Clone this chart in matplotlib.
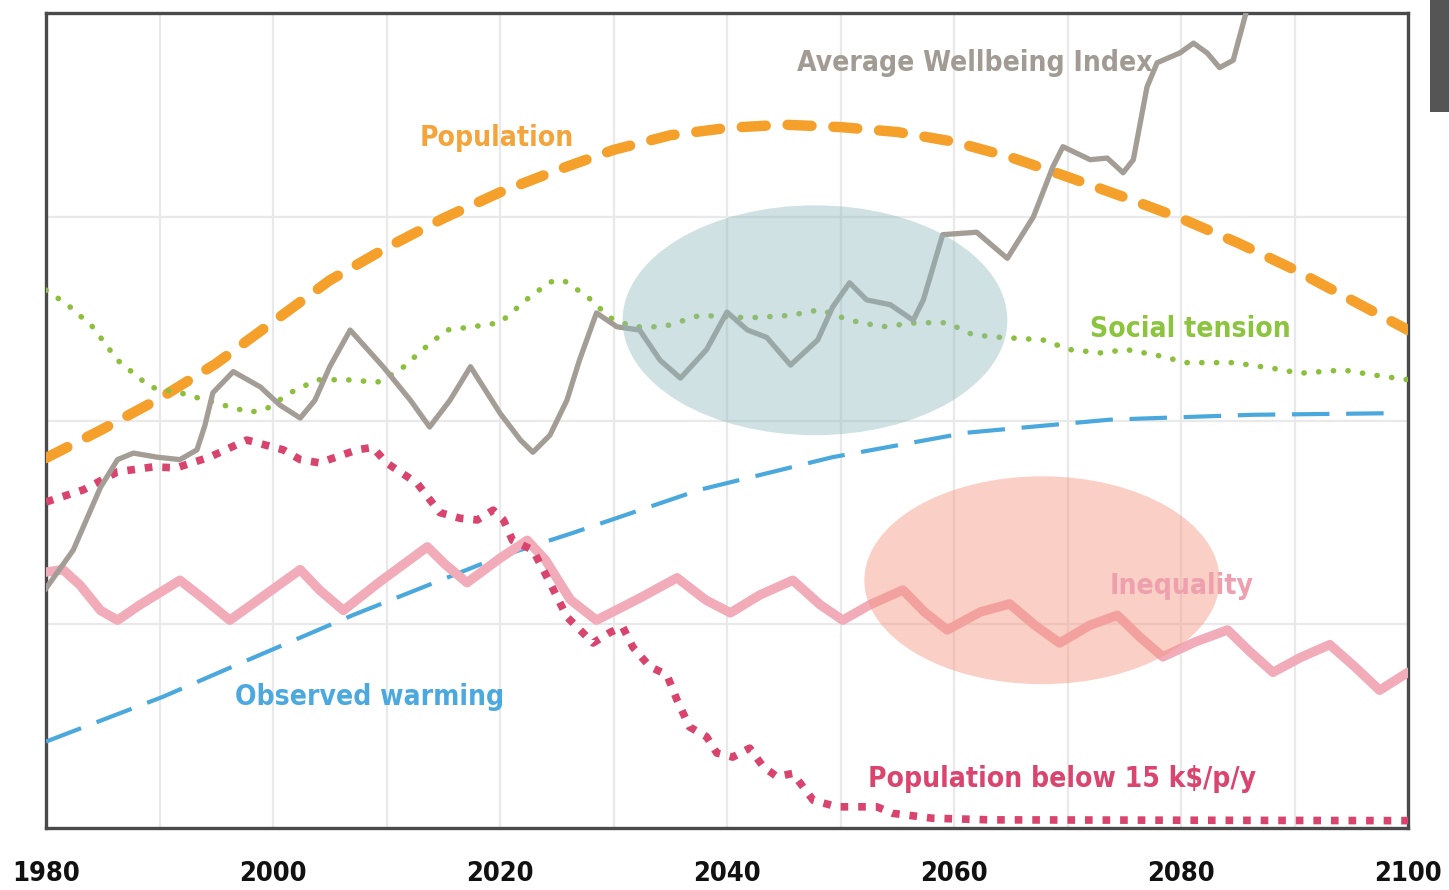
import matplotlib
matplotlib.use("Agg")
import matplotlib.pyplot as plt
from matplotlib.patches import Ellipse, Rectangle
from matplotlib import font_manager as fm

# ---------------- data ----------------
x_ticks = [1980, 2000, 2020, 2040, 2060, 2080, 2100]

pop_years = [1980, 1984.8, 1990, 1995, 2000, 2005, 2010, 2015, 2020, 2025, 2030, 2035,
             2040, 2045, 2050, 2055, 2060, 2065, 2070, 2075, 2080, 2085, 2090, 2095, 2100]
pop_vals = [45.4, 48.8, 52.7, 57.0, 62.1, 67.2, 71.2, 74.8, 78.0, 80.7, 83.2, 85.0,
            85.9, 86.3, 86.0, 85.4, 84.2, 82.3, 79.9, 77.4, 74.8, 71.8, 68.5, 64.8, 61.1]

wb_years = [1980, 1982.4, 1984.8, 1986.3, 1987.7, 1989.8, 1991.8, 1993.3, 1994.0, 1994.7,
            1996.5, 1998.9, 2000.6, 2002.4, 2003.7, 2005.0, 2006.8, 2009.7, 2012.1, 2013.8,
            2015.6, 2017.4, 2020.0, 2021.8, 2022.9, 2024.4, 2025.9, 2027.0, 2028.5, 2030.3,
            2032.3, 2034.1, 2035.9, 2038.2, 2040.0, 2041.8, 2043.5, 2045.6, 2048.0, 2049.3,
            2050.8, 2052.3, 2054.4, 2056.4, 2057.3, 2059.0, 2062.0, 2064.1, 2064.7, 2067.0,
            2068.7, 2069.6, 2070.8, 2072.0, 2073.5, 2074.9, 2075.8, 2077.0, 2077.9, 2079.9,
            2081.1, 2082.3, 2083.4, 2084.6, 2085.8, 2086.5]
wb_vals = [29.4, 34.1, 41.8, 45.2, 46.0, 45.5, 45.2, 46.4, 49.4, 53.4,
           56.0, 54.1, 51.9, 50.3, 52.5, 56.6, 61.1, 56.6, 52.5, 49.2,
           52.5, 56.6, 50.9, 47.6, 46.1, 48.2, 52.5, 57.4, 63.2, 61.5,
           61.1, 57.4, 55.2, 58.7, 63.3, 61.1, 60.2, 56.8, 59.9, 63.9,
           66.9, 64.8, 64.2, 62.3, 64.8, 72.8, 73.1, 70.6, 69.9, 75.0,
           81.1, 83.6, 82.8, 82.0, 82.2, 80.4, 82.0, 90.9, 93.9, 95.1,
           96.3, 95.1, 93.3, 94.2, 100.4, 103.4]

st_years = [1980, 1981.9, 1984.1, 1986.3, 1989.2, 1991.8, 1995.6, 1998.0, 1999.5, 2001.5,
            2003.9, 2006.5, 2009.2, 2011.2, 2013.2, 2015.3, 2017.6, 2020.0, 2022.4, 2024.4,
            2025.6, 2027.7, 2029.7, 2031.7, 2034.4, 2037.6, 2042.0, 2045.6, 2048.2, 2050.8,
            2053.7, 2056.7, 2059.4, 2061.7, 2064.1, 2067.8, 2070.2, 2072.9, 2075.2, 2077.9,
            2080.5, 2084.6, 2088.1, 2090.5, 2094.3, 2096.9, 2100]
st_vals = [66.0, 64.2, 61.5, 57.4, 54.1, 53.4, 51.9, 51.0, 51.5, 53.4,
           55.0, 55.0, 54.7, 56.2, 58.7, 61.1, 61.5, 62.0, 64.9, 67.0,
           67.2, 65.2, 62.6, 61.5, 61.5, 62.9, 62.6, 62.9, 63.6, 62.3,
           61.5, 62.0, 62.0, 60.5, 60.2, 59.9, 58.7, 58.3, 58.7, 58.0,
           57.1, 57.1, 56.4, 55.8, 56.2, 55.6, 55.0]

ow_years = [1980, 1990.3, 1997.1, 2007.0, 2020.0, 2026.4, 2037.6, 2049.3, 2061.1, 2073.7,
            2079.9, 2086.3, 2098.9]
ow_vals = [10.6, 16.1, 20.2, 26.1, 33.3, 36.2, 41.5, 45.5, 48.5, 50.1,
           50.4, 50.7, 50.9]

pb_years = [1980, 1983.3, 1986.3, 1989.4, 1991.5, 1994.4, 1997.7, 2000.9, 2002.4, 2004.1,
            2007.4, 2008.8, 2010.0, 2012.7, 2014.7, 2016.5, 2018.0, 2019.4, 2020.3, 2021.1,
            2022.9, 2024.4, 2025.9, 2028.2, 2029.7, 2030.8, 2031.7, 2033.2, 2034.7, 2035.6,
            2036.7, 2038.2, 2039.1, 2040.5, 2042.0, 2043.2, 2044.4, 2045.8, 2047.6, 2049.7,
            2053.2, 2054.6, 2058.1, 2063.2, 2100]
pb_vals = [40.0, 41.5, 43.7, 44.3, 44.2, 45.5, 47.6, 46.4, 45.2, 44.8,
           46.4, 46.7, 44.8, 42.3, 38.7, 38.0, 37.8, 39.0, 37.8, 35.3,
           34.1, 30.1, 25.9, 22.7, 24.0, 24.7, 22.2, 19.8, 18.8, 15.7,
           12.4, 11.2, 9.2, 8.7, 9.8, 7.5, 6.3, 6.7, 3.4, 2.6,
           2.6, 1.8, 1.2, 1.0, 0.9]

ineq_years = [1980, 1981.5, 1983.0, 1984.8, 1986.3, 1988.3, 1991.8, 1994.0, 1996.2, 1998.9,
              2002.4, 2004.1, 2006.2, 2009.4, 2013.6, 2015.2, 2017.1, 2020.0, 2022.4, 2024.0,
              2026.2, 2028.5, 2032.3, 2035.6, 2038.1, 2040.3, 2042.9, 2045.8, 2048.2, 2050.2,
              2052.6, 2055.5, 2057.4, 2059.4, 2062.3, 2064.9, 2067.1, 2069.3, 2072.0, 2074.4,
              2076.4, 2078.4, 2081.2, 2084.1, 2086.1, 2088.1, 2090.5, 2093.1, 2095.3, 2097.5,
              2100]
ineq_vals = [31.4, 31.7, 29.8, 26.7, 25.5, 27.4, 30.4, 28.0, 25.5, 28.2,
             31.7, 29.2, 26.7, 30.2, 34.5, 32.3, 30.1, 33.1, 35.3, 32.9,
             28.0, 25.5, 28.2, 30.7, 28.0, 26.4, 28.6, 30.4, 27.4, 25.5,
             27.4, 29.2, 26.5, 24.3, 26.5, 27.5, 24.9, 22.7, 24.9, 26.1,
             23.4, 21.0, 22.8, 24.3, 21.6, 19.1, 20.9, 22.5, 19.8, 16.9,
             19.1]

# ---------------- figure ----------------
W, H = 1449, 890
fig = plt.figure(figsize=(W / 100, H / 100), dpi=100)
fig.patch.set_facecolor("white")
ax = fig.add_axes([46 / W, 1 - 828 / H, (1408 - 46) / W, (828 - 13) / H])

names = {f.name for f in fm.fontManager.ttflist}
cond = [f for f in fm.fontManager.ttflist
        if f.name == "DejaVu Sans" and f.stretch == "condensed"]
if "Liberation Sans Narrow" in names:
    FP = dict(fontfamily=["Liberation Sans Narrow", "DejaVu Sans"], fontweight="bold")
    SCALE = 1.0
elif cond:
    FP = dict(fontfamily=["DejaVu Sans"], fontweight="bold", fontstretch="condensed")
    SCALE = 0.93
else:
    FP = dict(fontfamily=["Roboto", "DejaVu Sans"], fontweight="bold")
    SCALE = 0.9

ax.set_xlim(1980, 2100)
ax.set_ylim(0, 100)
ax.set_xticks(x_ticks)
ax.set_xticks(list(range(1990, 2100, 20)), minor=True)
ax.set_yticks([25, 50, 75])
ax.set_yticklabels([])
ax.tick_params(axis="both", which="both", length=0)
ax.tick_params(axis="x", pad=24)
ax.set_xticklabels([str(v) for v in x_ticks], color="#111111", fontsize=21 * SCALE, **FP)
ax.grid(True, which="both", color="#e9e9e9", linewidth=1.6)
ax.set_axisbelow(True)
for s in ax.spines.values():
    s.set_color("#4a4a4a")
    s.set_linewidth(2.4)

# series
ax.plot(pop_years, pop_vals, color="#f4a02a", linewidth=7.5, dashes=(2.3, 2.1),
        dash_capstyle="round", zorder=3)
ax.plot(ow_years, ow_vals, color="#4aa8dc", linewidth=3, dashes=(9, 4),
        zorder=3)
ax.plot(ineq_years, ineq_vals, color="#f2abb8", linewidth=6.8, solid_joinstyle="round",
        solid_capstyle="round", zorder=4)
ax.plot(pb_years, pb_vals, color="#d9446e", linewidth=5.5, dashes=(1, 1.3),
        zorder=5)
ax.plot(st_years, st_vals, color="#8cbf3c", linewidth=4.0, dashes=(0.05, 2.6),
        dash_capstyle="round", zorder=5)
ax.plot(wb_years, wb_vals, color="#a39d96", linewidth=3.8, solid_joinstyle="round",
        zorder=6)

# highlight ellipses
ax.add_patch(Ellipse((2047.75, 62.3), 33.9, 28.2, facecolor="#8fb9bf", alpha=0.42,
                     edgecolor="none", zorder=7))
ax.add_patch(Ellipse((2067.75, 30.4), 31.3, 25.5, facecolor="#f6957f", alpha=0.45,
                     edgecolor="none", zorder=7))

# labels
lab_kw = dict(fontsize=21.8 * SCALE, ha="left", va="center", zorder=8, **FP)
ax.text(2046.2, 93.9, "Average Wellbeing Index", color="#a19b94", **lab_kw)
ax.text(2012.95, 84.7, "Population", color="#f3a43a", **lab_kw)
ax.text(2072.0, 61.2, "Social tension", color="#8cc43f", **lab_kw)
ax.text(1996.65, 16.1, "Observed warming", color="#4ba9e0", **lab_kw)
ax.text(2073.75, 29.7, "Inequality", color="#eea0ae", **lab_kw)
ax.text(2052.4, 6.0, "Population below 15 k$/p/y", color="#d9456e", **lab_kw)

# dark block at the top right edge
fig.add_artist(Rectangle((1430 / W, 1 - 112 / H), 19 / W, 112 / H,
                         transform=fig.transFigure, facecolor="#555555",
                         edgecolor="none"))

fig.savefig("out.png", dpi=100)
